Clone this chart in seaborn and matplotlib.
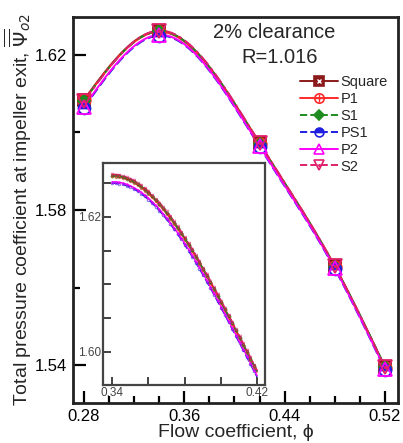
import numpy as np
import pandas as pd
import matplotlib
matplotlib.use("Agg")
import matplotlib.pyplot as plt
import seaborn as sns
from matplotlib.lines import Line2D
from matplotlib.legend_handler import HandlerTuple
from matplotlib.ticker import MultipleLocator, FixedLocator

# ---------------- data ----------------
phi = [0.28, 0.34, 0.42, 0.48, 0.52]
psi_square = [1.6085, 1.6262, 1.5972, 1.5655, 1.5395]
psi_p1 = [1.6083, 1.6260, 1.5970, 1.5653, 1.5393]
psi_s1 = [1.6082, 1.6261, 1.5971, 1.5654, 1.5396]
psi_ps1 = [1.6064, 1.6250, 1.5963, 1.5648, 1.5388]
psi_p2 = [1.6067, 1.6252, 1.5965, 1.5650, 1.5390]
psi_s2 = [1.6080, 1.6263, 1.5973, 1.5655, 1.5394]
series_names = ["Square", "P1", "S1", "PS1", "P2", "S2"]
series_values = [psi_square, psi_p1, psi_s1, psi_ps1, psi_p2, psi_s2]

main_xticks = [0.28, 0.36, 0.44, 0.52]
main_yticks = [1.54, 1.58, 1.62]
inset_xticklabels = {0.34: "0.34", 0.42: "0.42"}
inset_yticks = [1.60, 1.62]

# ---------------- styles ----------------
colors = {"Square": "#8b1a1a", "P1": "#ff2a2a", "S1": "#1e8c1e",
          "PS1": "#1f1fe0", "P2": "#ff00ff", "S2": "#e0206a"}
dashes = {"Square": "", "P1": "", "S1": (4, 2), "PS1": (5, 2),
          "P2": "", "S2": (6, 2, 1.5, 2)}
mk = {"Square": dict(marker="s", mfc="#8b1a1a", mec="#8b1a1a"),
      "P1": dict(marker="o", mfc="none", mec="#ff2a2a"),
      "S1": dict(marker="D", mfc="#1e8c1e", mec="#1e8c1e"),
      "PS1": dict(marker="o", mfc="#1f1fe0", mec="#1f1fe0", fillstyle="top", markerfacecoloralt="white"),
      "P2": dict(marker="^", mfc="none", mec="#ff00ff"),
      "S2": dict(marker="v", mfc="none", mec="#e0206a")}
msize = {"Square": 9, "P1": 9, "S1": 6.5, "PS1": 8.5, "P2": 9.5, "S2": 9.5}
inner = {"Square": dict(marker="x", color="white", ms=4, mew=1.0),
         "P1": dict(marker="+", color="#ff2a2a", ms=7, mew=1.0),
         "S2": dict(marker=".", color="#e0206a", ms=3)}


def natural_spline(x, y, xs):
    x = np.asarray(x, float); y = np.asarray(y, float); n = len(x)
    h = np.diff(x)
    A = np.zeros((n, n)); b = np.zeros(n)
    A[0, 0] = A[-1, -1] = 1.0
    for i in range(1, n - 1):
        A[i, i - 1] = h[i - 1]; A[i, i] = 2 * (h[i - 1] + h[i]); A[i, i + 1] = h[i]
        b[i] = 3 * ((y[i + 1] - y[i]) / h[i] - (y[i] - y[i - 1]) / h[i - 1])
    c = np.linalg.solve(A, b)
    bb = (y[1:] - y[:-1]) / h - h * (2 * c[:-1] + c[1:]) / 3
    d = (c[1:] - c[:-1]) / (3 * h)
    idx = np.clip(np.searchsorted(x, xs) - 1, 0, n - 2)
    t = xs - x[idx]
    return y[idx] + bb[idx] * t + c[idx] * t ** 2 + d[idx] * t ** 3


sns.set_style("ticks")
plt.rcParams["font.family"] = ["Liberation Sans", "DejaVu Sans"]
plt.rcParams["mathtext.fontset"] = "dejavusans"

fig = plt.figure(figsize=(4.03, 4.43), dpi=100)
ax = fig.add_axes([73 / 403, 1 - 403 / 443, 325 / 403, 386 / 443])
axi = fig.add_axes([103 / 403, 1 - 385 / 443, 162 / 403, 222 / 443])

xs = np.linspace(phi[0], phi[-1], 300)
rows = []
for name, vals in zip(series_names, series_values):
    ys = natural_spline(phi, vals, xs)
    rows.append(pd.DataFrame({"phi": xs, "psi": ys, "series": name}))
curves = pd.concat(rows, ignore_index=True)

sns.lineplot(data=curves, x="phi", y="psi", hue="series", style="series",
             palette=colors, dashes=dashes, hue_order=series_names,
             linewidth=1.4, ax=ax, legend=False, sort=False)

for name, vals in zip(series_names, series_values):
    ax.plot(phi, vals, linestyle="none", ms=msize[name], mew=1.3, **mk[name])
    if name in inner:
        ax.plot(phi, vals, linestyle="none", **inner[name])

# inset
xi = np.linspace(0.34, 0.42, 200)
rows = []
for name, vals in zip(series_names, series_values):
    rows.append(pd.DataFrame({"phi": xi, "psi": natural_spline(phi, vals, xi), "series": name}))
icurves = pd.concat(rows, ignore_index=True)
sns.lineplot(data=icurves, x="phi", y="psi", hue="series", style="series",
             palette=colors, dashes=dashes, hue_order=series_names,
             linewidth=1.1, ax=axi, legend=False, sort=False)
for name, vals in zip(series_names, series_values):
    axi.plot(xi, natural_spline(phi, vals, xi), linestyle="none",
             marker=mk[name]["marker"], ms=1.8, mfc="none",
             mec=colors[name], mew=0.7, markevery=5, alpha=0.6)

# axes formatting
ax.set_xlim(0.2712, 0.5304)
ax.set_ylim(1.5302, 1.6298)
ax.xaxis.set_major_locator(FixedLocator(main_xticks))
ax.xaxis.set_minor_locator(MultipleLocator(0.02))
ax.yaxis.set_major_locator(FixedLocator(main_yticks))
ax.yaxis.set_minor_locator(MultipleLocator(0.02))
ax.set_xticklabels([f"{v:.2f}" for v in main_xticks])
ax.set_yticklabels([f"{v:.2f}" for v in main_yticks])
ax.tick_params(which="both", direction="in", top=False, right=False, width=1.6,
               labelsize=12, colors="black")
ax.tick_params(which="major", length=9, pad=4)
ax.tick_params(which="minor", length=5)
for s in ax.spines.values():
    s.set_linewidth(2.0); s.set_color("#222222")
ax.set_xlabel("Flow coefficient, \u03d5", fontsize=14, labelpad=0)
ax.set_ylabel(r"Total pressure coefficient at impeller exit, $\overline{\overline{\Psi}}_{o2}$",
              fontsize=14, labelpad=1)

axi.set_xlim(0.335, 0.4244)
axi.set_ylim(1.5951, 1.628)
axi.xaxis.set_major_locator(MultipleLocator(0.02))
axi.yaxis.set_major_locator(FixedLocator(inset_yticks))
axi.yaxis.set_minor_locator(MultipleLocator(0.005))
axi.set_xticklabels([inset_xticklabels.get(round(v, 2), "") for v in axi.get_xticks()])
axi.set_yticklabels([f"{v:.2f}" for v in inset_yticks])
axi.tick_params(which="both", direction="in", top=False, right=False, width=1.3,
                labelsize=8.5, labelcolor="#444444", color="#333333")
axi.tick_params(which="major", length=6, pad=1.5)
axi.tick_params(which="minor", length=6)
for s in axi.spines.values():
    s.set_linewidth(1.6); s.set_color("#444444")
axi.set_xlabel(""); axi.set_ylabel("")
axi.set_facecolor("white")

ax.text(0.618, 0.959, "2% clearance", transform=ax.transAxes, fontsize=14.5,
        ha="center", va="center")
ax.text(0.637, 0.894, "R=1.016", transform=ax.transAxes, fontsize=14.5,
        ha="center", va="center")

handles = []
for name in series_names:
    ls = "-" if dashes[name] == "" else "--"
    h1 = Line2D([], [], color=colors[name], linestyle=ls, lw=1.4,
                ms=msize[name] * 0.75, mew=1.2, **mk[name])
    if name in inner:
        kw = dict(inner[name]); kw["ms"] = kw["ms"] * 0.75
        h2 = Line2D([], [], linestyle="none", **kw)
        handles.append((h1, h2))
    else:
        handles.append(h1)
ax.legend(handles, series_names, handler_map={tuple: HandlerTuple(ndivide=1, pad=0)},
          loc="upper left", bbox_to_anchor=(300 / 403, 1 - 75 / 443),
          bbox_transform=fig.transFigure, frameon=False, fontsize=10.5,
          handlelength=2.6, handletextpad=0.2, labelspacing=0.2, borderpad=0,
          borderaxespad=0)

fig.savefig("out.png", dpi=100)
